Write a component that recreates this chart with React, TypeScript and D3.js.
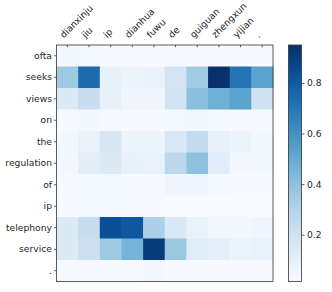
import { useEffect, useRef } from 'react';
import * as d3 from 'd3';

const targetWords = ['dianxinju', 'jiu', 'ip', 'dianhua', 'fuwu', 'de', 'guiguan', 'zhengxun', 'yijian', '.'];
const sourceWords = ['ofta', 'seeks', 'views', 'on', 'the', 'regulation', 'of', 'ip', 'telephony', 'service', '.'];

// attention weights, one row per source word
const weights: number[][] = [
  [0.04, 0.03, 0.02, 0.02, 0.02, 0.02, 0.02, 0.02, 0.02, 0.02],
  [0.36, 0.74, 0.09, 0.07, 0.08, 0.18, 0.35, 0.95, 0.71, 0.53],
  [0.14, 0.23, 0.09, 0.05, 0.05, 0.19, 0.41, 0.48, 0.53, 0.2],
  [0.02, 0.04, 0.02, 0.02, 0.02, 0.03, 0.04, 0.03, 0.02, 0.02],
  [0.04, 0.08, 0.17, 0.06, 0.06, 0.16, 0.25, 0.09, 0.06, 0.04],
  [0.04, 0.11, 0.14, 0.09, 0.08, 0.27, 0.4, 0.12, 0.04, 0.04],
  [0.02, 0.03, 0.03, 0.02, 0.02, 0.05, 0.05, 0.03, 0.02, 0.02],
  [0.02, 0.03, 0.03, 0.02, 0.02, 0.015, 0.015, 0.015, 0.015, 0.015],
  [0.14, 0.24, 0.84, 0.81, 0.32, 0.15, 0.08, 0.04, 0.04, 0.05],
  [0.14, 0.22, 0.36, 0.46, 0.91, 0.37, 0.13, 0.1, 0.07, 0.08],
  [0.02, 0.02, 0.02, 0.02, 0.04, 0.02, 0.02, 0.02, 0.02, 0.02],
];

const barTicks = [0.2, 0.4, 0.6, 0.8];

export default function App() {
  const svgRef = useRef<SVGSVGElement>(null);

  useEffect(() => {
    if (!svgRef.current) return;
    const svg = d3.select(svgRef.current);
    svg.selectAll('*').remove();

    const left = 56.5, right = 273, top = 45, bottom = 281.5;
    const font = 'DejaVu Sans, sans-serif';
    const textColor = '#262626';

    const x = d3.scaleBand().domain(targetWords.map((_, i) => String(i))).range([left, right]);
    const y = d3.scaleBand().domain(sourceWords.map((_, i) => String(i))).range([top, bottom]);

    const flat = weights.flat();
    const [vmin, vmax] = d3.extent(flat) as [number, number];
    const color = d3.scaleSequential(d3.interpolateBlues).domain([vmin, vmax]);

    // cells
    const cells = weights.flatMap((row, r) => row.map((v, c) => ({ r, c, v })));
    svg.append('g')
      .selectAll('rect')
      .data(cells)
      .enter()
      .append('rect')
      .attr('x', d => x(String(d.c)) || 0)
      .attr('y', d => y(String(d.r)) || 0)
      .attr('width', x.bandwidth() + 0.5)
      .attr('height', y.bandwidth() + 0.5)
      .attr('fill', d => color(d.v));

    svg.append('rect')
      .attr('x', left).attr('y', top)
      .attr('width', right - left).attr('height', bottom - top)
      .attr('fill', 'none').attr('stroke', '#333').attr('stroke-width', 0.8);

    // left axis
    const yAxis = svg.append('g');
    sourceWords.forEach((w, i) => {
      const cy = (y(String(i)) || 0) + y.bandwidth() / 2;
      yAxis.append('line')
        .attr('x1', left - 2.5).attr('x2', left).attr('y1', cy).attr('y2', cy)
        .attr('stroke', '#333').attr('stroke-width', 0.8);
      yAxis.append('text')
        .attr('x', left - 4.5).attr('y', cy).attr('dy', '0.35em')
        .attr('text-anchor', 'end')
        .style('font-family', font).style('font-size', '9.2px')
        .attr('fill', textColor)
        .text(w);
    });

    // top axis, ticks point into the plot
    const xAxis = svg.append('g');
    targetWords.forEach((w, i) => {
      const cx = (x(String(i)) || 0) + x.bandwidth() / 2;
      xAxis.append('line')
        .attr('x1', cx).attr('x2', cx).attr('y1', top).attr('y2', top + 2.2)
        .attr('stroke', '#333').attr('stroke-width', 0.8);
      xAxis.append('text')
        .attr('transform', `translate(${cx - 3.5},${top - 6.5}) rotate(-45)`)
        .style('font-family', font).style('font-size', '9.2px')
        .attr('fill', textColor)
        .text(w);
    });

    // colorbar
    const cbLeft = 288.5, cbWidth = 13;
    const defs = svg.append('defs');
    const grad = defs.append('linearGradient')
      .attr('id', 'cbGrad').attr('x1', 0).attr('y1', 1).attr('x2', 0).attr('y2', 0);
    d3.range(0, 1.0001, 0.05).forEach(t => {
      grad.append('stop').attr('offset', t).attr('stop-color', d3.interpolateBlues(t));
    });
    svg.append('rect')
      .attr('x', cbLeft).attr('y', top).attr('width', cbWidth).attr('height', bottom - top)
      .attr('fill', 'url(#cbGrad)')
      .attr('stroke', '#333').attr('stroke-width', 0.8);

    const cbScale = d3.scaleLinear().domain([vmin, vmax]).range([bottom, top]);
    svg.append('g')
      .attr('transform', `translate(${cbLeft + cbWidth},0)`)
      .call(d3.axisRight(cbScale).tickValues(barTicks).tickFormat(d3.format('.1f')).tickSize(3).tickPadding(2.5))
      .call(g => g.select('.domain').remove())
      .call(g => g.selectAll('line').attr('stroke', '#333').attr('stroke-width', 0.8))
      .call(g => g.selectAll('text').attr('fill', textColor).style('font-family', font).style('font-size', '9.2px'));
  }, []);

  return (
    <svg
      ref={svgRef}
      width={332}
      height={292}
      style={{ position: 'absolute', left: 0, top: 0, display: 'block', background: '#fff' }}
    />
  );
}
